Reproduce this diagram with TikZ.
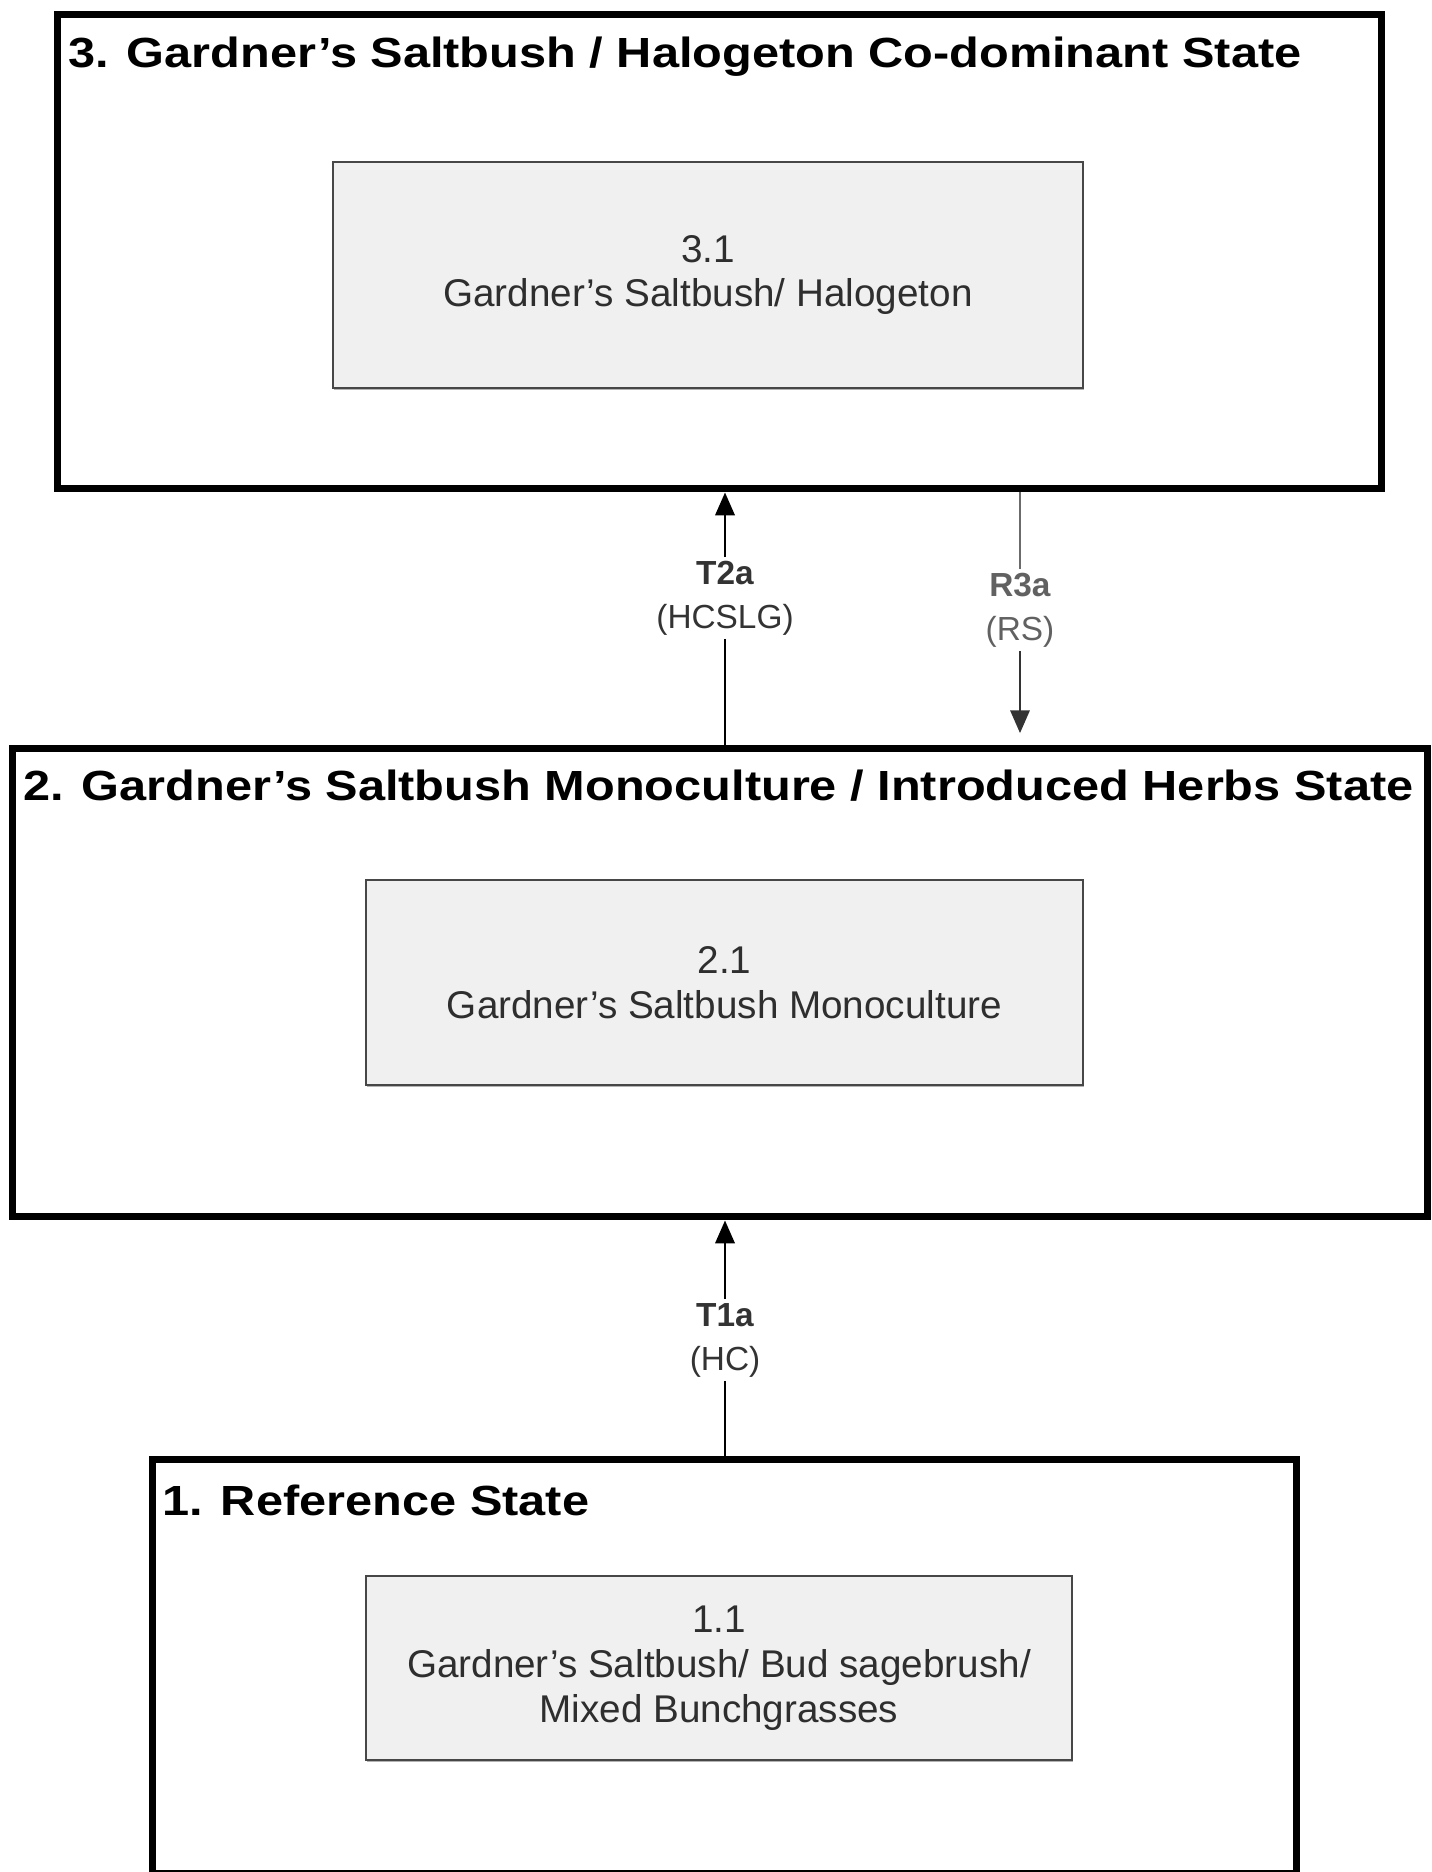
\documentclass[tikz,border=0pt]{standalone}
\usepackage{graphicx}
\usepackage{fontspec}
\setmainfont{Liberation Sans}
\usetikzlibrary{arrows.meta,shadows}

\begin{document}
\begin{tikzpicture}[x=0.02cm,y=-0.02cm,
  statebox/.style={draw,line width=4pt,inner sep=0pt},
  statetitle/.style={anchor=base west,inner sep=0pt,font=\fontsize{24}{28}\selectfont\bfseries},
  phasebox/.style={draw=black!72,line width=1.4pt,fill=black!6,inner sep=0pt,align=center,
    font=\fontsize{22}{25.5}\selectfont,text=black!82,
    drop shadow={shadow xshift=0.5pt,shadow yshift=-1.2pt,fill=black!50,opacity=0.6}},
  trlabel/.style={align=center,inner sep=2pt,font=\fontsize{19}{25}\selectfont,text=black!80},
  trarrow/.style={line width=1.4pt,-{Triangle[length=13pt,width=11pt]}}]
\useasboundingbox (0,0) rectangle (1431,1872);
% State 3
\node[statebox,minimum width=26.5cm,minimum height=9.5cm] (s3) at (719.5,251.5) {};
\node[statetitle] (s3t) at (68,68) {\scalebox{1.155}[1]{3. Gardner’s Saltbush / Halogeton Co-dominant State}};
\node[phasebox,minimum width=15cm,minimum height=4.52cm] (p31) at (708,275) {3.1\\Gardner’s Saltbush/ Halogeton};
% State 2
\node[statebox,minimum width=28.32cm,minimum height=9.38cm] (s2) at (720,982.5) {};
\node[statetitle] (s2t) at (23,800) {\scalebox{1.155}[1]{2. Gardner’s Saltbush Monoculture / Introduced Herbs State}};
\node[phasebox,minimum width=14.34cm,minimum height=4.1cm] (p21) at (724.5,982.5) {2.1\\Gardner’s Saltbush Monoculture};
% State 1
\node[statebox,minimum width=22.9cm,minimum height=8.3cm] (s1) at (724.5,1666.5) {};
\node[statetitle] (s1t) at (162,1515) {\scalebox{1.155}[1]{1. Reference State}};
\node[phasebox,minimum width=14.12cm,minimum height=3.68cm] (p11) at (719,1668) {1.1\\Gardner’s Saltbush/ Bud sagebrush/\\Mixed Bunchgrasses};
% T2a
\node[trlabel] (t2) at (725,598) {\textbf{T2a}\\(HCSLG)};
\draw[line width=1.4pt] (t2.south) -- (t2.south |- s2.north);
\draw[trarrow] (t2.north) -- (t2.north |- s3.south);
% R3a
\node[trlabel,text=black!62] (r3) at (1020,610) {\textbf{R3a}\\(RS)};
\draw[line width=1.4pt,black!58] (r3.north) -- (r3.north |- s3.south);
\draw[trarrow,black!80,shorten >=6.5pt] (r3.south) -- (r3.south |- s2.north);
% T1a
\node[trlabel] (t1) at (725,1340) {\textbf{T1a}\\(HC)};
\draw[line width=1.4pt] (t1.south) -- (t1.south |- s1.north);
\draw[trarrow] (t1.north) -- (t1.north |- s2.south);
\end{tikzpicture}
\end{document}
